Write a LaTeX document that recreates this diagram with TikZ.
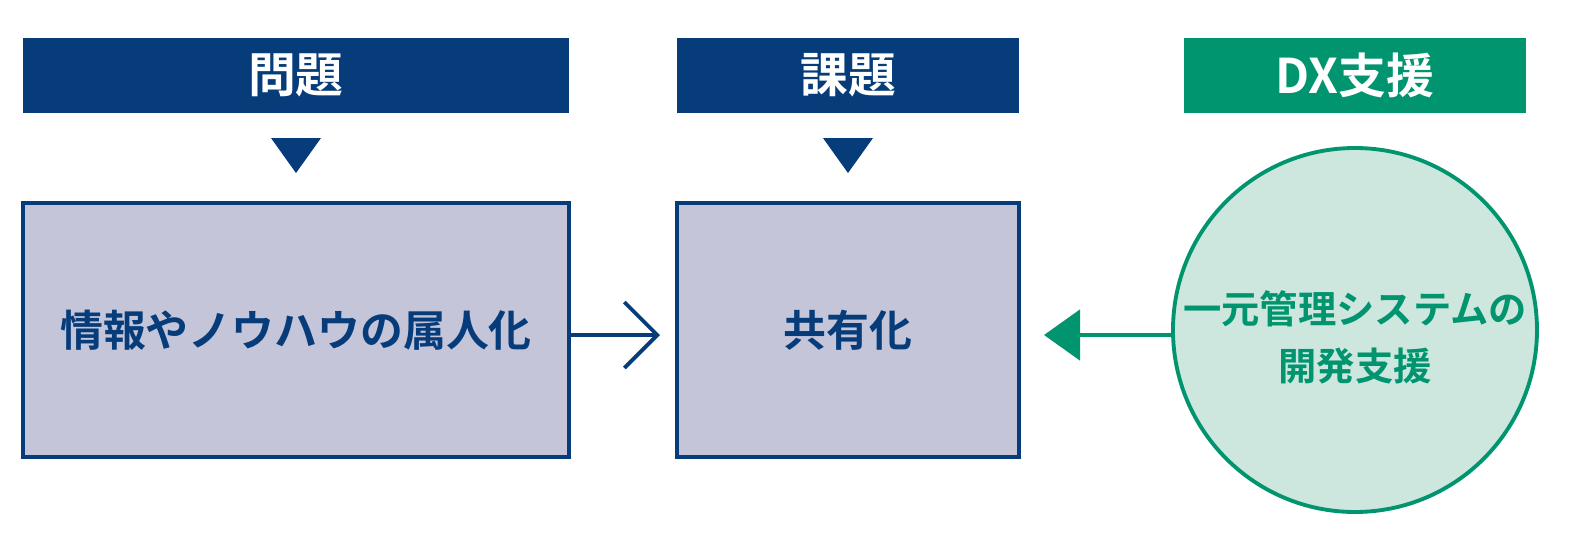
\documentclass[tikz,border=0pt]{standalone}
\usepackage{fontspec}
\setmainfont{Noto Sans CJK JP}[BoldFont={Noto Sans CJK JP Bold}]
\usepackage{tikz}
\usetikzlibrary{calc,positioning,arrows.meta,shapes.geometric}

\definecolor{navy}{HTML}{063C79}
\definecolor{lilac}{HTML}{C5C5DA}
\definecolor{teal}{HTML}{00946F}
\definecolor{mint}{HTML}{CDE7DE}

\begin{document}
\begin{tikzpicture}[%
    every node/.style={font=\bfseries, align=center},
    head/.style={fill=navy, text=white, minimum height=0.75cm, font=\bfseries\fontsize{13.6}{15}\selectfont},
    box/.style={draw=navy, line width=0.9pt, fill=lilac, text=navy, minimum height=2.54cm, font=\bfseries\fontsize{12.2}{15}\selectfont},
    tri/.style={fill=navy}]
    \useasboundingbox (0,0) rectangle (15.69,5.56);

    \node[head, minimum width=5.46cm] (Problem) at (2.96,4.805) {問題};
    \node[head, minimum width=3.42cm] (Task) at (8.48,4.805) {課題};
    \node[head, minimum width=3.42cm, fill=teal] (DX) at (13.55,4.805) {DX支援};

    \fill[tri] (2.71,4.18) -- (3.21,4.18) -- (2.96,3.83) -- cycle;
    \fill[tri] (8.23,4.18) -- (8.73,4.18) -- (8.48,3.83) -- cycle;

    \node[box, minimum width=5.46cm] (Owner) at (2.96,2.26) {情報やノウハウの属人化};
    \node[box, minimum width=3.42cm] (Share) at (8.48,2.26) {共有化};
    \node[circle, draw=teal, line width=1.1pt, fill=mint, inner sep=0pt, minimum size=3.64cm] (Sys) at (13.55,2.26) {};
    \node[text=teal, font=\bfseries\fontsize{10.9}{16.2}\selectfont, yshift=-0.07cm] (SysText) at (Sys) {一元管理システムの\\開発支援};

    \coordinate (ShareIn) at (6.60,2.21);
    \coordinate (SysOut) at (10.44,2.21);
    \draw[navy, line width=1.1pt, line cap=round, -{Straight Barb[length=3.3mm, width=6.6mm]}]
        (Owner.east |- ShareIn) -- (ShareIn);
    \draw[teal, line width=1.4pt, -{Triangle[length=3.6mm, width=5mm]}]
        (Sys.west |- SysOut) -- (SysOut);
\end{tikzpicture}
\end{document}
